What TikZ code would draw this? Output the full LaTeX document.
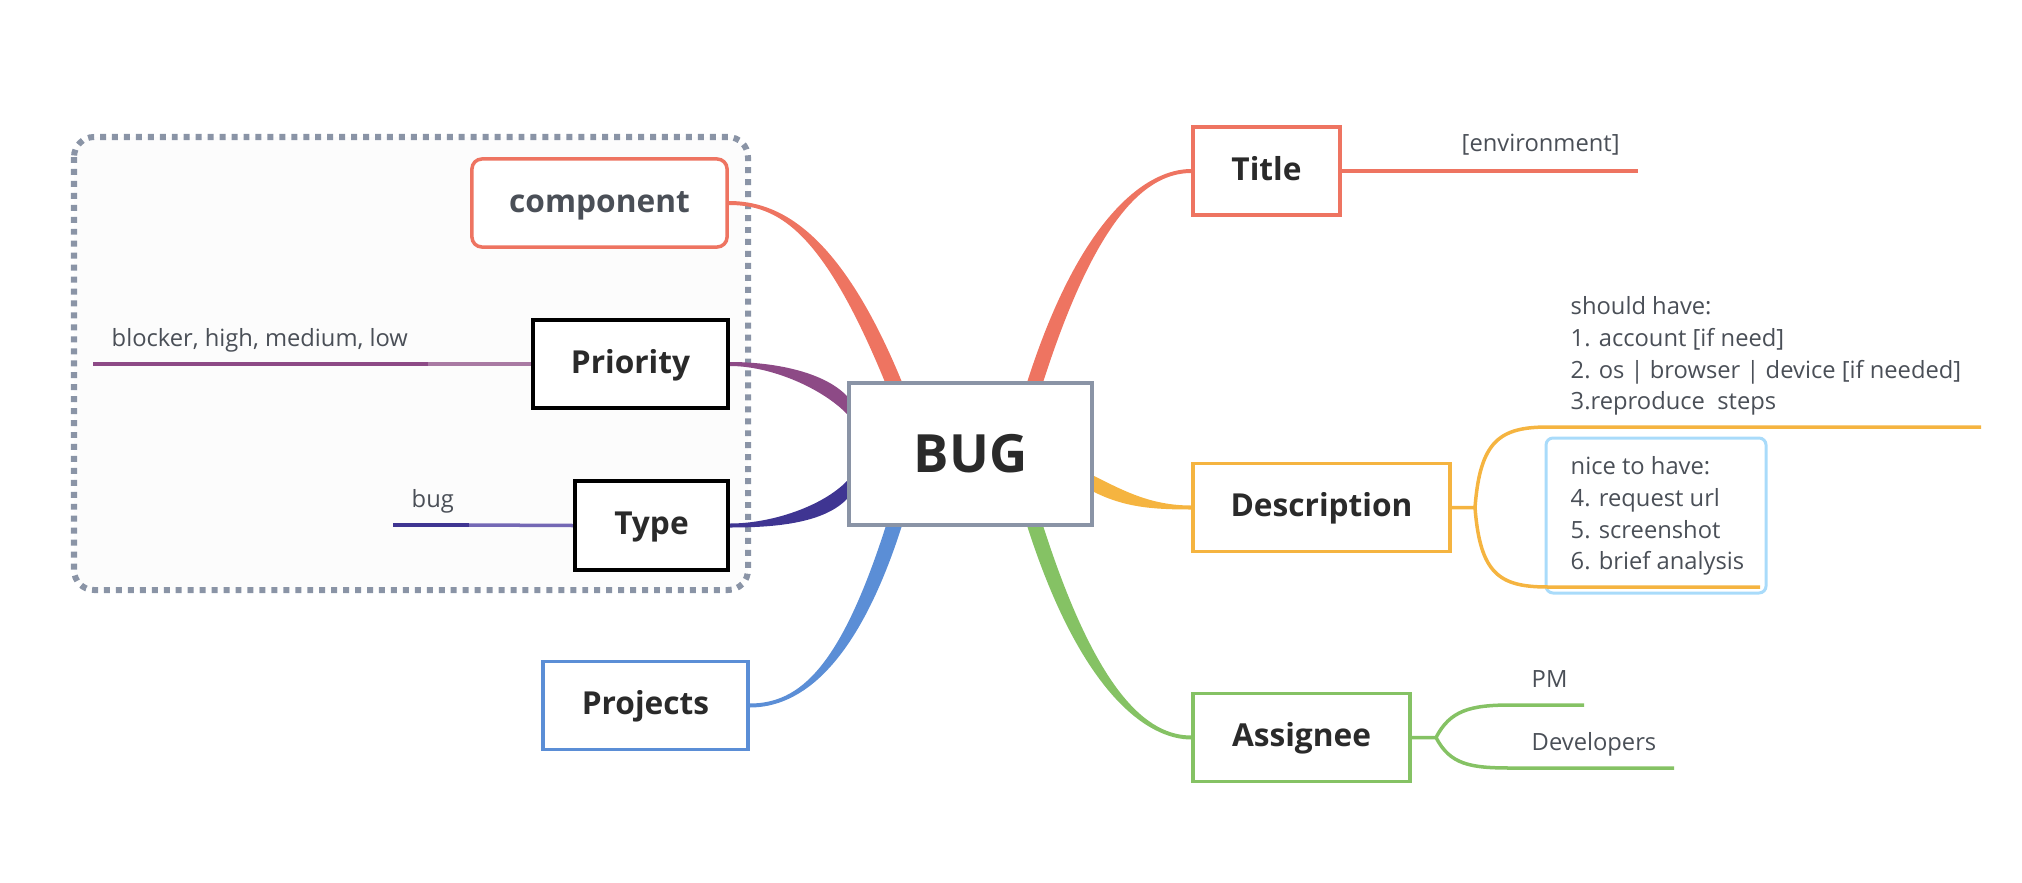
\documentclass[tikz,border=0pt]{standalone}
\usepackage{fontspec}
\setmainfont{Open Sans}
\usetikzlibrary{calc,backgrounds}

\definecolor{coral}{HTML}{EE7461}
\definecolor{amber}{HTML}{F5B440}
\definecolor{leafgreen}{HTML}{85C264}
\definecolor{skyblue}{HTML}{5B8ED6}
\definecolor{plum}{HTML}{8D4A86}
\definecolor{plumlight}{HTML}{A97AA3}
\definecolor{indigo}{HTML}{3F3592}
\definecolor{indigolight}{HTML}{7468B5}
\definecolor{slate}{HTML}{8A94A6}
\definecolor{icebox}{HTML}{A9DBFA}
\definecolor{inkdark}{HTML}{2A2A2A}
\definecolor{inkgray}{HTML}{4A4F57}
\definecolor{groupfill}{HTML}{FCFCFC}

\tikzset{
  topic/.style={draw, line width=0.035cm, fill=white, inner sep=0pt,
    font=\fontsize{9}{11}\selectfont\bfseries, text=inkdark, minimum height=0.88cm,
    text height=0.22cm, text depth=0.04cm},
  maintopic/.style={topic, draw=slate, line width=0.04cm,
    font=\fontsize{15}{18}\selectfont\bfseries, minimum width=2.43cm, minimum height=1.42cm,
    text height=0.4cm, text depth=0.04cm},
  leaftext/.style={inner sep=0pt, font=\fontsize{6.75}{9}\selectfont, text=inkgray},
  leafline/.style={line width=0.035cm},
  groupbox/.style={draw=slate, line width=0.06cm, dash pattern=on 1.7pt off 1.7pt,
    rounded corners=0.2cm, fill=groupfill},
  nicebox/.style={draw=icebox, line width=0.03cm, rounded corners=0.07cm}
}

\begin{document}
\begin{tikzpicture}[x=0.01cm,y=-0.01cm]
  \useasboundingbox (0,0) rectangle (2022,882);

  % topics
  \node[maintopic] (bug) at (970.5,454) {BUG};
  \node[topic, draw=coral, minimum width=1.47cm] (title) at (1266.5,171) {Title};
  \node[topic, draw=amber, minimum width=2.57cm] (desc) at (1321.5,507.5) {Description};
  \node[topic, draw=leafgreen, minimum width=2.17cm] (assignee) at (1301.5,737.5) {Assignee};
  \node[topic, draw=skyblue, minimum width=2.05cm] (projects) at (645.5,705.5) {Projects};
  \node[topic, draw=coral, rounded corners=0.1cm, text=inkgray, minimum width=2.55cm] (component) at (599.5,203) {component};
  \node[topic, draw=black, line width=0.04cm, minimum width=1.95cm] (priority) at (630.5,364) {Priority};
  \node[topic, draw=black, line width=0.04cm, minimum width=1.53cm] (type) at (651.5,525.5) {Type};

  % group and main branches
  \begin{scope}[on background layer]
    \draw[groupbox] (74,137) rectangle (748,590);
    \fill[coral] ($(component.east)+(0,-2)$) .. controls +(48,0) and +(-63,-153) .. ($(bug.north)+(-69,0)$)
      -- ($(bug.north)+(-86,0)$) .. controls +(-63,-153) and +(48,0) .. ($(component.east)+(0,2)$) -- cycle;
    \fill[coral] ($(title.west)+(0,-2)$) .. controls +(-43,0) and +(54,-168) .. ($(bug.north)+(57,0)$)
      -- ($(bug.north)+(73,0)$) .. controls +(54,-168) and +(-43,0) .. ($(title.west)+(0,2)$) -- cycle;
    \fill[plum] ($(priority.east)+(0,-2)$) .. controls +(42,0) and +(-24,-25) .. ($(bug.west)+(0,-58)$)
      -- ($(bug.west)+(0,-40)$) .. controls +(-24,-25) and +(42,0) .. ($(priority.east)+(0,2)$) -- cycle;
    \fill[indigo] ($(type.east)+(0,-2)$) .. controls +(42,0) and +(-24,25) .. ($(bug.west)+(0,27)$)
      -- ($(bug.west)+(0,45)$) .. controls +(-24,25) and +(42,0) .. ($(type.east)+(0,2)$) -- cycle;
    \fill[amber] ($(desc.west)+(0,-2)$) .. controls +(-40,0) and +(30,15) .. ($(bug.east)+(0,22)$)
      -- ($(bug.east)+(0,38)$) .. controls +(30,15) and +(-40,0) .. ($(desc.west)+(0,2)$) -- cycle;
    \fill[leafgreen] ($(assignee.west)+(0,-2)$) .. controls +(-43,0) and +(54,168) .. ($(bug.south)+(73,0)$)
      -- ($(bug.south)+(57,0)$) .. controls +(54,168) and +(-43,0) .. ($(assignee.west)+(0,2)$) -- cycle;
    \fill[skyblue] ($(projects.east)+(0,-2)$) .. controls +(50,0) and +(-45,140) .. ($(bug.south)+(-85,0)$)
      -- ($(bug.south)+(-69,0)$) .. controls +(-45,140) and +(50,0) .. ($(projects.east)+(0,2)$) -- cycle;
  \end{scope}

  % title leaf
  \coordinate (envend) at (1638,171);
  \draw[coral, leafline] (title.east) -- (envend);
  \node[leaftext, anchor=base west] (env) at (1461,152) {[environment]};

  % priority and type leaves
  \coordinate (priomid) at (428,364);
  \coordinate (prioend) at (93,364);
  \draw[plumlight, leafline] (priority.west) -- (priomid);
  \draw[plum, leafline] (priomid) -- (prioend);
  \node[leaftext, anchor=base west] (levels) at (111,346) {blocker, high, medium, low};

  \coordinate (typemid) at (469,525);
  \coordinate (typeend) at (393,525);
  \draw[indigolight, leafline] (type.west) -- (typemid);
  \draw[indigo, leafline] (typemid) -- (typeend);
  \node[leaftext, anchor=base west] (kind) at (411,507) {bug};

  % description leaves
  \draw[nicebox] (1546,438) rectangle (1766,593);
  \coordinate (descfork) at (1475,507.5);
  \coordinate (desctop) at (1548,427);
  \coordinate (descend) at (1981,427);
  \coordinate (descbot) at (1548,587);
  \coordinate (descbotend) at (1760,587);
  \draw[amber, leafline] (desc.east) -- (descfork) .. controls +(5,-67) and +(-48,0) .. (desctop) -- (descend);
  \draw[amber, leafline] (descfork) .. controls +(5,67) and +(-48,0) .. (descbot) -- (descbotend);
  \node[leaftext, anchor=north west, align=left] (should) at (1570,296)
    {should have:\\1. account [if need]\\2. os | browser | device [if needed]\\3.reproduce\ \ steps};
  \node[leaftext, anchor=north west, align=left] (nice) at (1570,456)
    {nice to have:\\4. request url\\5. screenshot\\6. brief analysis};

  % assignee leaves
  \coordinate (asgfork) at (1436,737.5);
  \coordinate (pmstart) at (1511,705);
  \coordinate (pmend) at (1584,705);
  \coordinate (devstart) at (1511,768);
  \coordinate (devend) at (1674,768);
  \draw[leafgreen, leafline] (assignee.east) -- (asgfork) .. controls +(14,-27) and +(-41,0) .. (pmstart) -- (pmend);
  \draw[leafgreen, leafline] (asgfork) .. controls +(14,27) and +(-41,0) .. (devstart) -- (devend);
  \node[leaftext, anchor=base west] (pm) at (1531,687) {PM};
  \node[leaftext, anchor=base west] (devs) at (1531,750) {Developers};
\end{tikzpicture}
\end{document}
